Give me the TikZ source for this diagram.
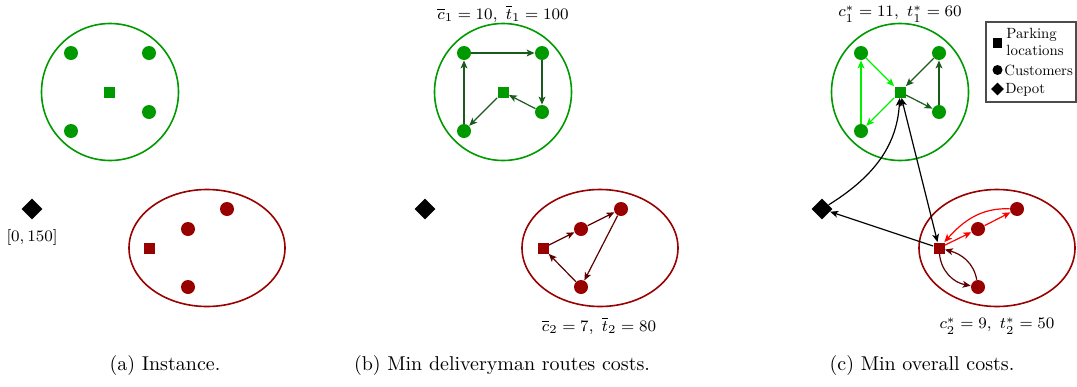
\documentclass[tikz,border=0pt]{standalone}
\usepackage{fontspec}
\newfontfamily\legfont{lmroman10-regular}[Extension=.otf]
\usetikzlibrary{shapes.geometric,arrows.meta}
\definecolor{gfill}{HTML}{009900}
\definecolor{rfill}{HTML}{990000}
\definecolor{garrow}{HTML}{1A5A1A}
\definecolor{rarrow}{HTML}{5C0000}
\definecolor{gbright}{HTML}{00F000}
\definecolor{rbright}{HTML}{FF0000}
\begin{document}
\begin{tikzpicture}[x=0.5pt,y=-0.5pt,
  cust/.style={circle,fill=#1,inner sep=0pt,minimum size=7pt},
  park/.style={rectangle,fill=#1,inner sep=0pt,minimum size=5.5pt},
  depot/.style={diamond,fill=black,inner sep=0pt,aspect=1,minimum size=10.5pt},
  zone/.style={draw=#1,line width=0.8pt},
  arr/.style={draw=#1,line width=0.6pt,-{Stealth[length=4pt,width=3.4pt,inset=1pt]}},
  darr/.style={draw=#1,line width=0.6pt,{Stealth[length=4pt,width=3.4pt,inset=1pt]}-{Stealth[length=4pt,width=3.4pt,inset=1pt]}},
  lbl/.style={font=\footnotesize,inner sep=0pt},
  legtxt/.style={font=\legfont\fontsize{7.4}{8.3}\selectfont,inner sep=0pt,anchor=west},
  captxt/.style={font=\normalsize,inner sep=0pt}]
\useasboundingbox (0,0) rectangle (1077,386);

% ---------------- (a) ----------------
\draw[zone=gfill] (110,92) circle [radius=68.5];
\draw[zone=rfill] (207,248) ellipse [x radius=78, y radius=58.5];
\node[cust=gfill] (a1) at (71,53) {};
\node[cust=gfill] (a2) at (149,53) {};
\node[cust=gfill] (a3) at (149,112) {};
\node[cust=gfill] (a4) at (71,131) {};
\node[park=gfill] (ap) at (109,92) {};
\node[depot] (ad) at (32,209) {};
\node[lbl] (adl) at (32,237) {$[0,150]$};
\node[cust=rfill] (ar1) at (227,209) {};
\node[cust=rfill] (ar2) at (188,229) {};
\node[cust=rfill] (ar3) at (188,287) {};
\node[park=rfill] (arp) at (149,248) {};
\node[captxt] (capa) at (165,365) {(a) Instance.};

% ---------------- (b) ----------------
\draw[zone=gfill] (503,92) circle [radius=68.5];
\draw[zone=rfill] (600,248) ellipse [x radius=78, y radius=58.5];
\node[cust=gfill] (b1) at (464,53) {};
\node[cust=gfill] (b2) at (542,53) {};
\node[cust=gfill] (b3) at (542,112) {};
\node[cust=gfill] (b4) at (464,131) {};
\node[park=gfill] (bp) at (503,92) {};
\node[depot] (bd) at (425,209) {};
\node[cust=rfill] (br1) at (621,209) {};
\node[cust=rfill] (br2) at (581,229) {};
\node[cust=rfill] (br3) at (581,287) {};
\node[park=rfill] (brp) at (543,248) {};
\node[lbl] (bl1) at (503,14) {$\overline{c}_1=10,\ \overline{t}_1=100$};
\node[lbl] (bl2) at (599,326) {$\overline{c}_2=7,\ \overline{t}_2=80$};
\draw[arr=garrow] (b1) -- (b2);
\draw[arr=garrow] (b2) -- (b3);
\draw[arr=garrow] (b3) -- (bp);
\draw[arr=garrow] (bp) -- (b4);
\draw[arr=garrow] (b4) -- (b1);
\draw[arr=rarrow] (brp) -- (br2);
\draw[arr=rarrow] (br2) -- (br1);
\draw[arr=rarrow] (br1) -- (br3);
\draw[arr=rarrow] (br3) -- (brp);
\node[captxt] (capb) at (502,365) {(b) Min deliveryman routes costs.};

% ---------------- (c) ----------------
\draw[zone=gfill] (900,92) circle [radius=68.5];
\draw[zone=rfill] (997,248) ellipse [x radius=78, y radius=58.5];
\node[cust=gfill] (c1) at (861,53) {};
\node[cust=gfill] (c2) at (939,53) {};
\node[cust=gfill] (c3) at (939,112) {};
\node[cust=gfill] (c4) at (861,131) {};
\node[park=gfill] (cp) at (900,92) {};
\node[depot] (cd) at (822,209) {};
\node[cust=rfill] (cr1) at (1017,209) {};
\node[cust=rfill] (cr2) at (978,229) {};
\node[cust=rfill] (cr3) at (978,287) {};
\node[park=rfill] (crp) at (939,248) {};
\node[lbl] (cl1) at (900,14) {$c_1^*=11,\ t_1^*=60$};
\node[lbl] (cl2) at (997,326) {$c_2^*=9,\ t_2^*=50$};
\draw[arr=gbright] (c1) -- (cp);
\draw[arr=gbright] (cp) -- (c4);
\draw[arr=gbright] (c4) -- (c1);
\draw[arr=garrow] (c2) -- (cp);
\draw[arr=garrow] (cp) -- (c3);
\draw[arr=garrow] (c3) -- (c2);
\draw[arr=black] (cd) to[out=32,in=-93] (cp);
\draw[darr=black] (cp) -- (crp);
\draw[arr=black] (crp) -- (cd);
\draw[arr=rbright] (crp) -- (cr2);
\draw[arr=rbright] (cr2) -- (cr1);
\draw[arr=rbright] (cr1) to[out=178,in=48] (crp);
\draw[arr=rarrow] (crp) to[out=-85,in=170] (cr3);
\draw[arr=rarrow] (cr3) to[out=100,in=-15] (crp);
\node[captxt] (capc) at (922,365) {(c) Min overall costs.};

% legend
\draw[draw=black!70,line width=0.6pt] (986,22) rectangle (1076,102);
\node[park=black,minimum size=4.6pt] (lg1) at (997.5,43) {};
\node[legtxt,align=left] (lt1) at (1006,42) {Parking\\locations};
\node[cust=black,minimum size=5pt] (lg2) at (997.5,70) {};
\node[legtxt] (lt2) at (1004,70) {Customers};
\node[depot,minimum size=6.5pt] (lg3) at (997.5,89) {};
\node[legtxt] (lt3) at (1005,89.5) {Depot};
\end{tikzpicture}
\end{document}
